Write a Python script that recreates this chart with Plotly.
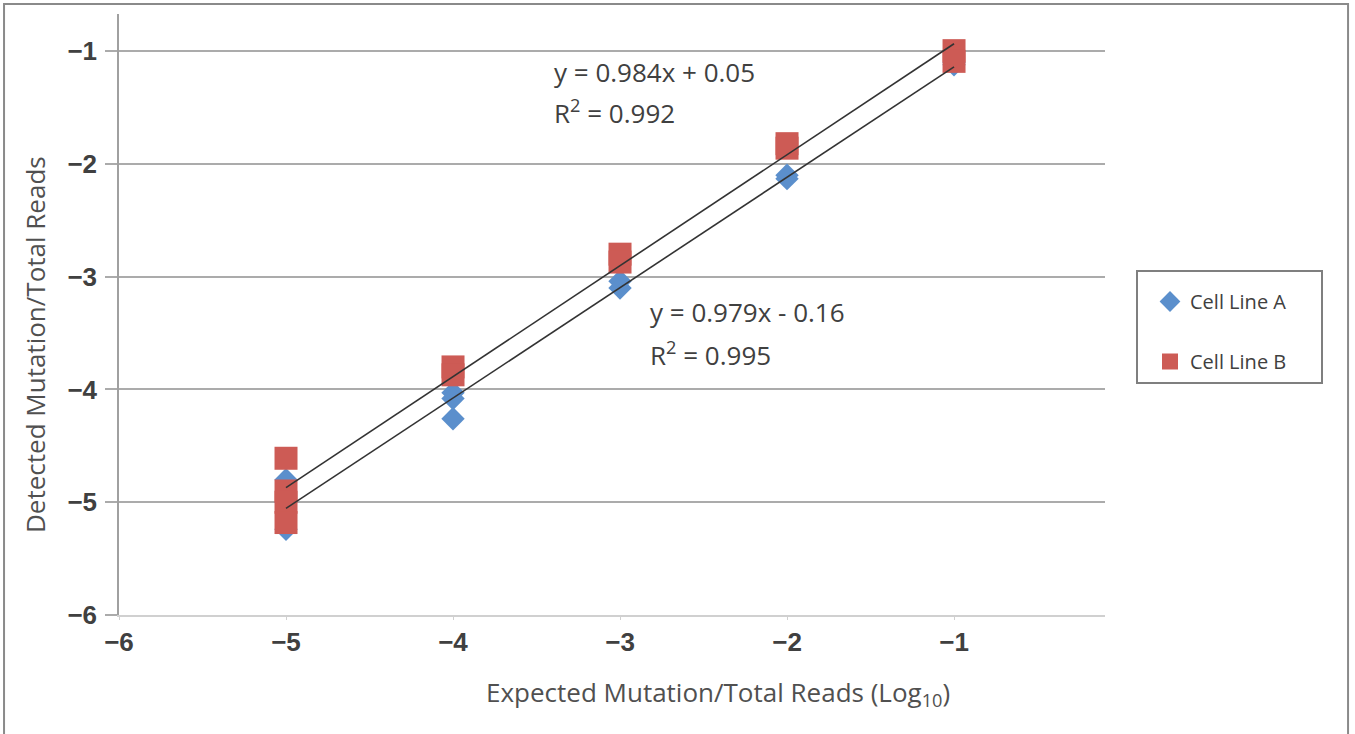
import plotly.graph_objects as go

# ---- data ----
a_x = [-5, -5, -5, -4, -4, -4, -3, -3, -2, -2, -1, -1]
a_y = [-4.80, -5.00, -5.24, -4.03, -4.08, -4.26, -3.04, -3.10, -2.10, -2.13, -1.12, -1.10]
b_x = [-5, -5, -5, -5, -4, -4, -3, -3, -2, -2, -1, -1]
b_y = [-4.61, -4.90, -5.00, -5.18, -3.80, -3.87, -2.80, -2.87, -1.82, -1.86, -0.995, -1.09]

fit_names = ["Cell Line B", "Cell Line A"]
fit_slopes = [0.984, 0.979]
fit_intercepts = [0.05, -0.16]
fit_x = [-5, -1]
fit_eq = ["y = 0.984x + 0.05", "y = 0.979x - 0.16"]
fit_r2 = ["R<sup>2</sup> = 0.992", "R<sup>2</sup> = 0.995"]
eq_pos_x = [-3.41, -2.835]
eq_pos_y = [-1.186, -3.31]
r2_pos_y = [-1.54, -3.686]

x_ticks = [-6, -5, -4, -3, -2, -1]
y_ticks = [-6, -5, -4, -3, -2, -1]
x_title = "Expected Mutation/Total Reads (Log<sub>10</sub>)"
y_title = "Detected Mutation/Total Reads"

BLUE = "#5B8FCC"
RED = "#CD5B55"
FONT = "Open Sans"

fig = go.Figure()
fig.add_trace(go.Scatter(x=a_x, y=a_y, mode="markers", name="Cell Line A",
                         legendgroup="a",
                         marker=dict(symbol="diamond", size=18, color=BLUE)))
fig.add_trace(go.Scatter(x=b_x, y=b_y, mode="markers", name="Cell Line B",
                         legendgroup="b",
                         marker=dict(symbol="square", size=23, color=RED)))
for s, b in zip(fit_slopes, fit_intercepts):
    fig.add_trace(go.Scatter(x=fit_x, y=[s * v + b for v in fit_x], mode="lines",
                             showlegend=False, hoverinfo="skip",
                             line=dict(color="#333333", width=1.6)))

for ex, ey, ry, et, rt in zip(eq_pos_x, eq_pos_y, r2_pos_y, fit_eq, fit_r2):
    fig.add_annotation(x=ex, y=ey, text=et, showarrow=False, xanchor="left",
                       yanchor="middle", font=dict(family=FONT, size=26, color="#404040"))
    fig.add_annotation(x=ex, y=ry, text=rt, showarrow=False, xanchor="left",
                       yanchor="middle", font=dict(family=FONT, size=26, color="#404040"))

# axis titles (offset from plot centre as in the original)
fig.add_annotation(xref="paper", yref="paper", x=(718 - 119) / 986, y=(615 - 693) / 601,
                   text=x_title, showarrow=False, xanchor="center", yanchor="middle",
                   font=dict(family=FONT, size=26, color="#505050"))
fig.add_annotation(xref="paper", yref="paper", x=(35 - 119) / 986, y=(615 - 345) / 601,
                   text=y_title, showarrow=False, xanchor="center", yanchor="middle",
                   textangle=-90, font=dict(family=FONT, size=26, color="#505050"))

# outer border and legend box
fig.add_shape(type="rect", xref="paper", yref="paper",
              x0=-0.1166, x1=1.2465, y0=-0.25, y1=1.0166,
              line=dict(color="#8a8a8a", width=2), layer="below")
fig.add_shape(type="rect", xref="paper", yref="paper",
              x0=(1137 - 119) / 986, x1=(1322 - 119) / 986,
              y0=(615 - 383) / 601, y1=(615 - 271) / 601,
              line=dict(color="#7f7f7f", width=2), layer="below")

fig.update_layout(
    width=1355, height=734,
    margin=dict(l=119, r=250, t=14, b=119),
    paper_bgcolor="white", plot_bgcolor="white",
    font=dict(family=FONT, color="#404040"),
    showlegend=True,
    legend=dict(x=(1150 - 119) / 986, y=(615 - 282) / 601, xanchor="left", yanchor="top",
                bgcolor="rgba(0,0,0,0)", borderwidth=0,
                font=dict(family=FONT, size=20, color="#404040"),
                tracegroupgap=31),
    xaxis=dict(range=[-6, -0.096], tickvals=x_ticks, ticktext=[f"\u2212{abs(v)}" for v in x_ticks],
               showgrid=False, zeroline=False, showline=True, linecolor="#d0d0d0", linewidth=1.5,
               ticks="outside", ticklen=3, tickcolor="#d0d0d0", automargin=False,
               tickfont=dict(family="Liberation Sans", size=26, color="#404040", weight="bold")),
    yaxis=dict(range=[-6, -0.67], tickvals=y_ticks, ticktext=[f"\u2212{abs(v)}" for v in y_ticks],
               showgrid=True, gridcolor="#ababab", gridwidth=1.5, zeroline=False,
               showline=True, linecolor="#a0a0a0", linewidth=1.5,
               ticks="outside", ticklen=12, tickcolor="#ababab", tickwidth=1.5,
               ticklabelstandoff=3, automargin=False,
               tickfont=dict(family="Liberation Sans", size=26, color="#404040", weight="bold")),
)

fig.write_html("out.html", config={"displayModeBar": False},
               post_script="document.body.style.margin='0';")
